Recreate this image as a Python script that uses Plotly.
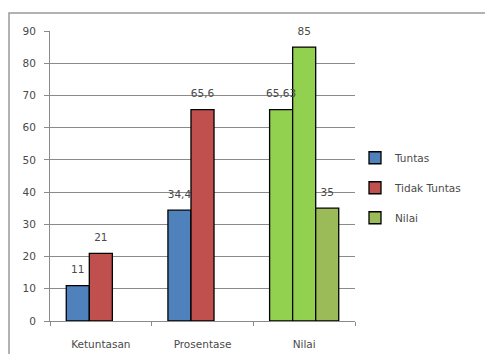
import plotly.graph_objects as go

categories = ["Ketuntasan", "Prosentase", "Nilai"]
tuntas = [11, 34.4, 65.63]
tidak_tuntas = [21, 65.6, 85]
nilai = [None, None, 35]

tuntas_colors = ["#4F81BD", "#4F81BD", "#92D050"]
tidak_colors = ["#C0504D", "#C0504D", "#92D050"]
nilai_color = "#9BBB59"

def fmt(v):
    if v is None:
        return ""
    s = ("%g" % v).replace(".", ",")
    return s

FONT = "'DejaVu Sans', sans-serif"
GRID = "#8a8a8a"
TXT = "#4a4a4a"

fig = go.Figure()
series = [("Tuntas", tuntas, tuntas_colors), ("Tidak Tuntas", tidak_tuntas, tidak_colors), ("Nilai", nilai, nilai_color)]
for i, (name, vals, col) in enumerate(series):
    fig.add_trace(go.Bar(
        name=name, x=categories, y=vals, offsetgroup=str(i),
        marker=dict(color=col, line=dict(color="#000000", width=1.3)),
        legendgroup=name,
    ))
for i, (name, vals, col) in enumerate(series):
    fig.add_trace(go.Scatter(
        x=categories, y=vals, mode="markers+text", offsetgroup=str(i),
        text=[fmt(v) for v in vals], textposition="top center",
        marker=dict(size=14, opacity=0),
        textfont=dict(family=FONT, size=10.5, color=TXT),
        showlegend=False, hoverinfo="skip", cliponaxis=False,
    ))

fig.update_layout(
    width=485, height=354,
    margin=dict(l=50, r=130, t=31, b=33),
    paper_bgcolor="white", plot_bgcolor="white",
    barmode="group", bargap=0.32, bargroupgap=0,
    scattermode="group", scattergap=0.32,
    font=dict(family=FONT, size=10.5, color=TXT),
    legend=dict(x=1.0, y=0.613, xanchor="left", yanchor="top",
                traceorder="grouped", tracegroupgap=11,
                font=dict(family=FONT, size=10.5, color=TXT),
                bgcolor="rgba(0,0,0,0)"),
    showlegend=True,
)
fig.update_yaxes(range=[0, 90], dtick=10, showgrid=True, gridcolor=GRID, gridwidth=1,
                 showline=True, linecolor=GRID, linewidth=1, ticks="outside", ticklen=5,
                 tickcolor=GRID, ticklabelstandoff=6, zeroline=False, automargin=False,
                 tickfont=dict(family=FONT, size=10.5, color=TXT))
fig.update_xaxes(showline=True, linecolor=GRID, linewidth=1, ticks="outside", ticklen=4,
                 tickcolor=GRID, tickson="boundaries", ticklabelstandoff=13, automargin=False,
                 tickfont=dict(family=FONT, size=10.5, color=TXT))

fig.add_shape(type="rect", xref="paper", yref="paper",
              x0=-0.1344, y0=-0.2, x1=1.5, y1=1.062,
              line=dict(color="#999999", width=1.5), fillcolor="rgba(0,0,0,0)", layer="below")

fig.write_html("out.html")
